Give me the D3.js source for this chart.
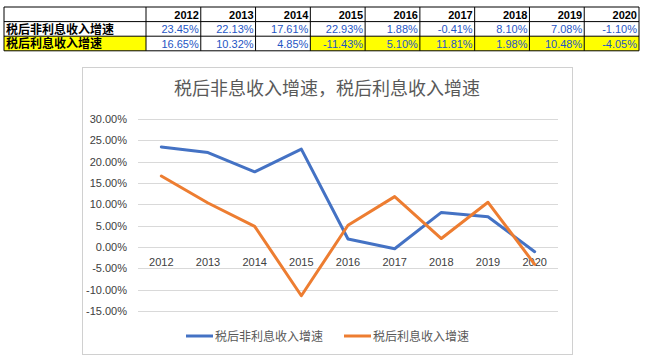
<!DOCTYPE html>
<html>
<head>
<meta charset="utf-8">
<script src="https://cdn.jsdelivr.net/npm/d3@7"></script>
<style>
  body { margin: 0; background: #fff; }
  svg { display: block; font-family: "Noto Sans CJK SC", "Liberation Sans", sans-serif; }
</style>
</head>
<body>
<div id="chart"></div>
<script>
// data
const years = ["2012", "2013", "2014", "2015", "2016", "2017", "2018", "2019", "2020"];
const seriesNames = ["税后非利息收入增速", "税后利息收入增速"];
const chartTitle = "税后非息收入增速，税后利息收入增速";
const nonInterest = [23.45, 22.13, 17.61, 22.93, 1.88, -0.41, 8.10, 7.08, -1.10];
const interest = [16.65, 10.32, 4.85, -11.43, 5.10, 11.81, 1.98, 10.48, -4.05];
const yTicks = [30, 25, 20, 15, 10, 5, 0, -5, -10, -15];
// which cells of the second row are highlighted in the table
const highlightFrom = 3;

const width = 649, height = 363;
const colors = ["#4472C4", "#ED7D31"];

const svg = d3.select("#chart").append("svg")
    .attr("width", width)
    .attr("height", height);

// ---- table on top ----
const tbl = { left: 4, labelRight: 146, right: 639, top: 7, rowH: 14.6 };
const colX = d3.scaleBand()
    .domain(years)
    .range([tbl.labelRight, tbl.right]);

const rows = [
    { label: "", values: years.map(y => y), header: true },
    { label: seriesNames[0], values: nonInterest.map(v => v.toFixed(2) + "%") },
    { label: seriesNames[1], values: interest.map(v => v.toFixed(2) + "%"), yellow: true }
];

const table = svg.append("g");
rows.forEach((r, i) => {
    const y0 = tbl.top + i * tbl.rowH;
    if (r.yellow) {
        table.append("rect")
            .attr("x", tbl.left).attr("y", y0)
            .attr("width", tbl.labelRight - tbl.left).attr("height", tbl.rowH)
            .attr("fill", "#ffff00");
        years.forEach((yr, j) => {
            if (j >= highlightFrom) {
                table.append("rect")
                    .attr("x", colX(yr)).attr("y", y0)
                    .attr("width", colX.bandwidth()).attr("height", tbl.rowH)
                    .attr("fill", "#ffff00");
            }
        });
    }
    if (r.label) {
        table.append("text")
            .attr("x", tbl.left + 2)
            .attr("y", y0 + tbl.rowH - 2.5)
            .attr("font-size", "12px")
            .attr("font-weight", "bold")
            .attr("fill", "#000")
            .text(r.label);
    }
    r.values.forEach((v, j) => {
        table.append("text")
            .attr("x", colX(years[j]) + colX.bandwidth() - 2)
            .attr("y", y0 + tbl.rowH - 3)
            .attr("text-anchor", "end")
            .attr("font-family", "'Liberation Sans', sans-serif")
            .attr("font-size", "11px")
            .attr("font-weight", r.header ? "bold" : "normal")
            .attr("fill", r.header ? "#000" : "#1F56C4")
            .text(v);
    });
});
// table grid lines
const tblBottom = tbl.top + rows.length * tbl.rowH;
d3.range(rows.length + 1).forEach(i => {
    table.append("line")
        .attr("x1", tbl.left).attr("x2", tbl.right)
        .attr("y1", tbl.top + i * tbl.rowH).attr("y2", tbl.top + i * tbl.rowH)
        .attr("stroke", "#000").attr("stroke-width", 1);
});
[tbl.left, tbl.labelRight].concat(years.map(y => colX(y) + colX.bandwidth())).forEach(x => {
    table.append("line")
        .attr("x1", x).attr("x2", x)
        .attr("y1", tbl.top).attr("y2", tblBottom)
        .attr("stroke", "#000").attr("stroke-width", 1);
});

// ---- chart box ----
svg.append("rect")
    .attr("x", 82.5).attr("y", 67.5)
    .attr("width", 490).attr("height", 287)
    .attr("fill", "#fff")
    .attr("stroke", "#d0d0d0");

svg.append("text")
    .attr("x", 327)
    .attr("y", 95)
    .attr("text-anchor", "middle")
    .attr("font-size", "18px")
    .attr("fill", "#595959")
    .text(chartTitle);

const plot = { left: 138, right: 558, top: 119, bottom: 311 };

const x = d3.scaleBand()
    .domain(years)
    .range([plot.left, plot.right]);

const y = d3.scaleLinear()
    .domain([-15, 30])
    .range([plot.bottom, plot.top]);

// gridlines
svg.append("g")
    .selectAll("line")
    .data(yTicks)
    .join("line")
    .attr("x1", plot.left).attr("x2", plot.right)
    .attr("y1", d => Math.round(y(d)) + 0.5).attr("y2", d => Math.round(y(d)) + 0.5)
    .attr("stroke", "#d9d9d9");

// y axis labels
const yAxis = d3.axisLeft(y)
    .tickValues(yTicks)
    .tickSize(0)
    .tickPadding(0)
    .tickFormat(d => d.toFixed(2) + "%");
svg.append("g")
    .attr("transform", `translate(${plot.left - 11},0)`)
    .call(yAxis)
    .call(g => g.select(".domain").remove())
    .call(g => g.selectAll("text")
        .attr("font-family", "'Liberation Sans', sans-serif")
        .attr("font-size", "11px")
        .attr("fill", "#404040"));

// x axis labels (below zero line)
const xAxis = d3.axisBottom(x).tickSize(0).tickPadding(11);
svg.append("g")
    .attr("transform", `translate(0,${y(0)})`)
    .call(xAxis)
    .call(g => g.select(".domain").remove())
    .call(g => g.selectAll("text")
        .attr("font-family", "'Liberation Sans', sans-serif")
        .attr("font-size", "11px")
        .attr("fill", "#404040"));

// lines
const line = d3.line()
    .x((d, i) => x(years[i]) + x.bandwidth() / 2)
    .y(d => y(d));

[nonInterest, interest].forEach((s, k) => {
    svg.append("path")
        .datum(s)
        .attr("d", line)
        .attr("fill", "none")
        .attr("stroke", colors[k])
        .attr("stroke-width", 3)
        .attr("stroke-linejoin", "round")
        .attr("stroke-linecap", "round");
});

// legend
const legendX = [186, 344];
seriesNames.forEach((name, k) => {
    const g = svg.append("g").attr("transform", `translate(${legendX[k]},336)`);
    g.append("line")
        .attr("x1", 0).attr("x2", 27)
        .attr("stroke", colors[k])
        .attr("stroke-width", 3);
    g.append("text")
        .attr("x", 29)
        .attr("y", 4.5)
        .attr("font-size", "12px")
        .attr("fill", "#595959")
        .text(name);
});
</script>
</body>
</html>
